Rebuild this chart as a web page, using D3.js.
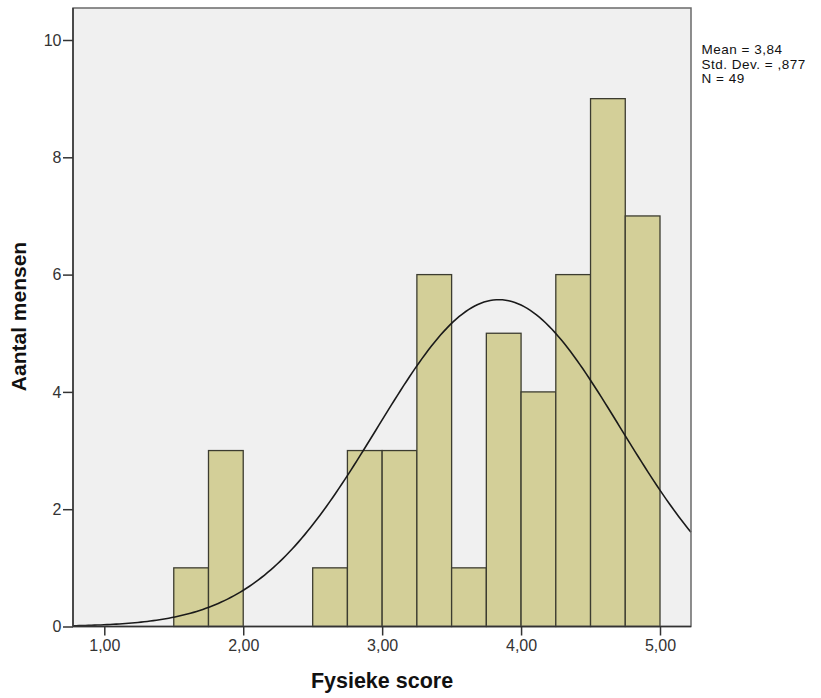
<!DOCTYPE html>
<html>
<head>
<meta charset="utf-8">
<script src="https://cdn.jsdelivr.net/npm/d3@7"></script>
<style>
  body { margin: 0; background: #fff; }
  text { font-family: "Liberation Sans", Arial, sans-serif; }
</style>
</head>
<body>
<div id="chart"></div>
<script>
// bin edges (lower bound) and counts, bin width 0.25
const binStarts = [1.50, 1.75, 2.50, 2.75, 3.00, 3.25, 3.50, 3.75, 4.00, 4.25, 4.50, 4.75];
const counts    = [1,    3,    1,    3,    3,    6,    1,    5,    4,    6,    9,    7];
const binWidth = 0.25;

const xTicks = [1, 2, 3, 4, 5];
const yTicks = [0, 2, 4, 6, 8, 10];

const mean = 3.84, sd = 0.877, n = 49;
const statLines = ["Mean = 3,84", "Std. Dev. = ,877", "N = 49"];

const w = 821, h = 698;
const plotL = 73, plotR = 691, plotT = 8, plotB = 626.5;

const x = d3.scaleLinear().domain([1, 5]).range([104.3, 660]);
const y = d3.scaleLinear().domain([0, 10]).range([plotB, 40]);

const svg = d3.select("#chart").append("svg")
  .attr("width", w)
  .attr("height", h);

svg.append("rect")
  .attr("x", plotL)
  .attr("y", plotT)
  .attr("width", plotR - plotL)
  .attr("height", plotB - plotT)
  .attr("fill", "#f0f0f0");

const data = binStarts.map((b, i) => ({ x0: b, x1: b + binWidth, count: counts[i] }));

svg.selectAll("rect.bar")
  .data(data)
  .enter()
  .append("rect")
  .attr("class", "bar")
  .attr("x", d => x(d.x0))
  .attr("y", d => y(d.count))
  .attr("width", d => x(d.x1) - x(d.x0))
  .attr("height", d => y(0) - y(d.count))
  .attr("fill", "#d3cf98")
  .attr("stroke", "#3c3c30")
  .attr("stroke-width", 1.3);

// fitted normal curve from the reported statistics
const xDomain = [x.invert(plotL), x.invert(plotR)];
const pts = d3.range(0, 201).map(i => {
  const v = xDomain[0] + (xDomain[1] - xDomain[0]) * i / 200;
  const z = (v - mean) / sd;
  return [v, n * binWidth * Math.exp(-0.5 * z * z) / (sd * Math.sqrt(2 * Math.PI))];
});

svg.append("path")
  .datum(pts)
  .attr("fill", "none")
  .attr("stroke", "#1a1a1a")
  .attr("stroke-width", 1.6)
  .attr("d", d3.line().x(d => x(d[0])).y(d => y(d[1])));

// frame
svg.append("rect")
  .attr("x", plotL)
  .attr("y", plotT)
  .attr("width", plotR - plotL)
  .attr("height", plotB - plotT)
  .attr("fill", "none")
  .attr("stroke", "#6a6a6a")
  .attr("stroke-width", 1.5);

svg.append("line")
  .attr("x1", plotL).attr("x2", plotR)
  .attr("y1", plotB).attr("y2", plotB)
  .attr("stroke", "#333").attr("stroke-width", 1.5);
svg.append("line")
  .attr("x1", plotL).attr("x2", plotL)
  .attr("y1", plotT).attr("y2", plotB)
  .attr("stroke", "#333").attr("stroke-width", 1.5);

const fmt = d => d3.format(".2f")(d).replace(".", ",");

const xAxis = d3.axisBottom(x)
  .tickValues(xTicks)
  .tickFormat(fmt)
  .tickSize(9)
  .tickPadding(4.5);

const gx = svg.append("g")
  .attr("transform", `translate(0, ${plotB})`)
  .call(xAxis);
gx.select(".domain").remove();
gx.selectAll("line").attr("stroke", "#333").attr("stroke-width", 1.5);
gx.selectAll("text").attr("font-size", 16).attr("fill", "#333");

const yAxis = d3.axisLeft(y)
  .tickValues(yTicks)
  .tickSize(10)
  .tickPadding(1.5);

const gy = svg.append("g")
  .attr("transform", `translate(${plotL}, 0)`)
  .call(yAxis);
gy.select(".domain").remove();
gy.selectAll("line").attr("stroke", "#333").attr("stroke-width", 1.5);
gy.selectAll("text").attr("font-size", 16).attr("fill", "#333");

svg.append("text")
  .attr("text-anchor", "middle")
  .attr("transform", "translate(26, 316.5) rotate(-90)")
  .attr("font-size", 21)
  .attr("font-weight", "bold")
  .attr("fill", "#111")
  .text("Aantal mensen");

svg.append("text")
  .attr("text-anchor", "middle")
  .attr("x", 382)
  .attr("y", 688)
  .attr("font-size", 21.5)
  .attr("font-weight", "bold")
  .attr("fill", "#111")
  .text("Fysieke score");

svg.append("g")
  .attr("transform", "translate(701.5, 54)")
  .selectAll("text")
  .data(statLines)
  .enter()
  .append("text")
  .attr("y", (d, i) => i * 14.5)
  .attr("font-size", 13.5)
  .attr("letter-spacing", 0.5)
  .attr("fill", "#111")
  .text(d => d);
</script>
</body>
</html>
